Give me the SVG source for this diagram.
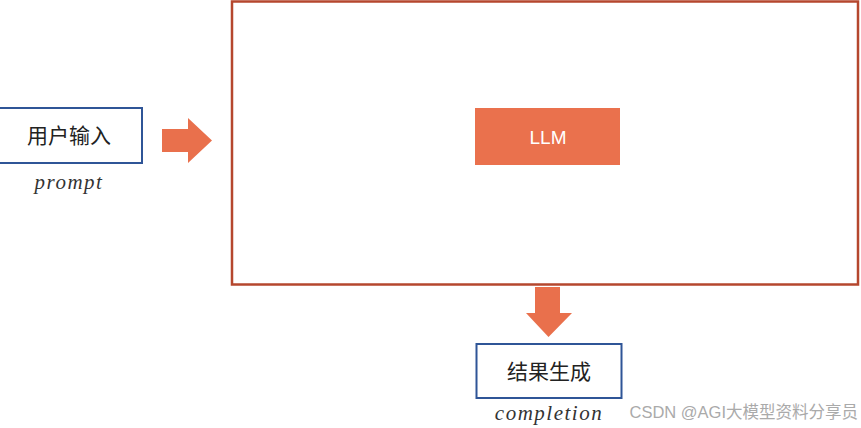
<svg xmlns="http://www.w3.org/2000/svg" width="861" height="428" viewBox="0 0 861 428">
<style>
.box{fill:#fff;stroke:#2f5597;stroke-width:2}
.cn{font-family:"Noto Sans CJK SC","Liberation Sans",sans-serif;font-size:21px;fill:#222;text-anchor:middle}
.it{font-family:"Liberation Serif",serif;font-style:italic;font-size:21px;fill:#333;text-anchor:middle;letter-spacing:1.5px}
.arr{fill:#e9704c}
</style>
<rect width="861" height="428" fill="#fff"/>
<g id="frame"><rect x="232" y="1.5" width="626" height="283" fill="#fff" stroke="#b5472e" stroke-width="2.5"/></g>
<g id="input">
<rect class="box" x="-2" y="108" width="144" height="55"/>
<text class="cn" x="69" y="143">用户输入</text>
<text class="it" x="69" y="189">prompt</text>
</g>
<g id="llm">
<rect x="475" y="108" width="145" height="57" fill="#ea714d"/>
<text x="548" y="144" font-family="Liberation Sans,Arial,sans-serif" font-size="19" fill="#fff" text-anchor="middle">LLM</text>
</g>
<g id="output">
<rect class="box" x="476.5" y="344" width="145" height="54"/>
<text class="cn" x="549" y="379">结果生成</text>
<text class="it" x="549" y="420">completion</text>
</g>
<g id="connectors">
<polygon class="arr" points="162,129 188,129 188,118 212,140.5 188,163 188,152 162,152"/>
<polygon class="arr" points="535,287 560,287 560,313 572,313 548.5,337 526,313 535,313"/>
</g>
<text x="858" y="418" font-family="Liberation Sans,Arial,'Noto Sans CJK SC',sans-serif" font-size="16.5" fill="#aaa" text-anchor="end">CSDN @AGI大模型资料分享员</text>
</svg>
